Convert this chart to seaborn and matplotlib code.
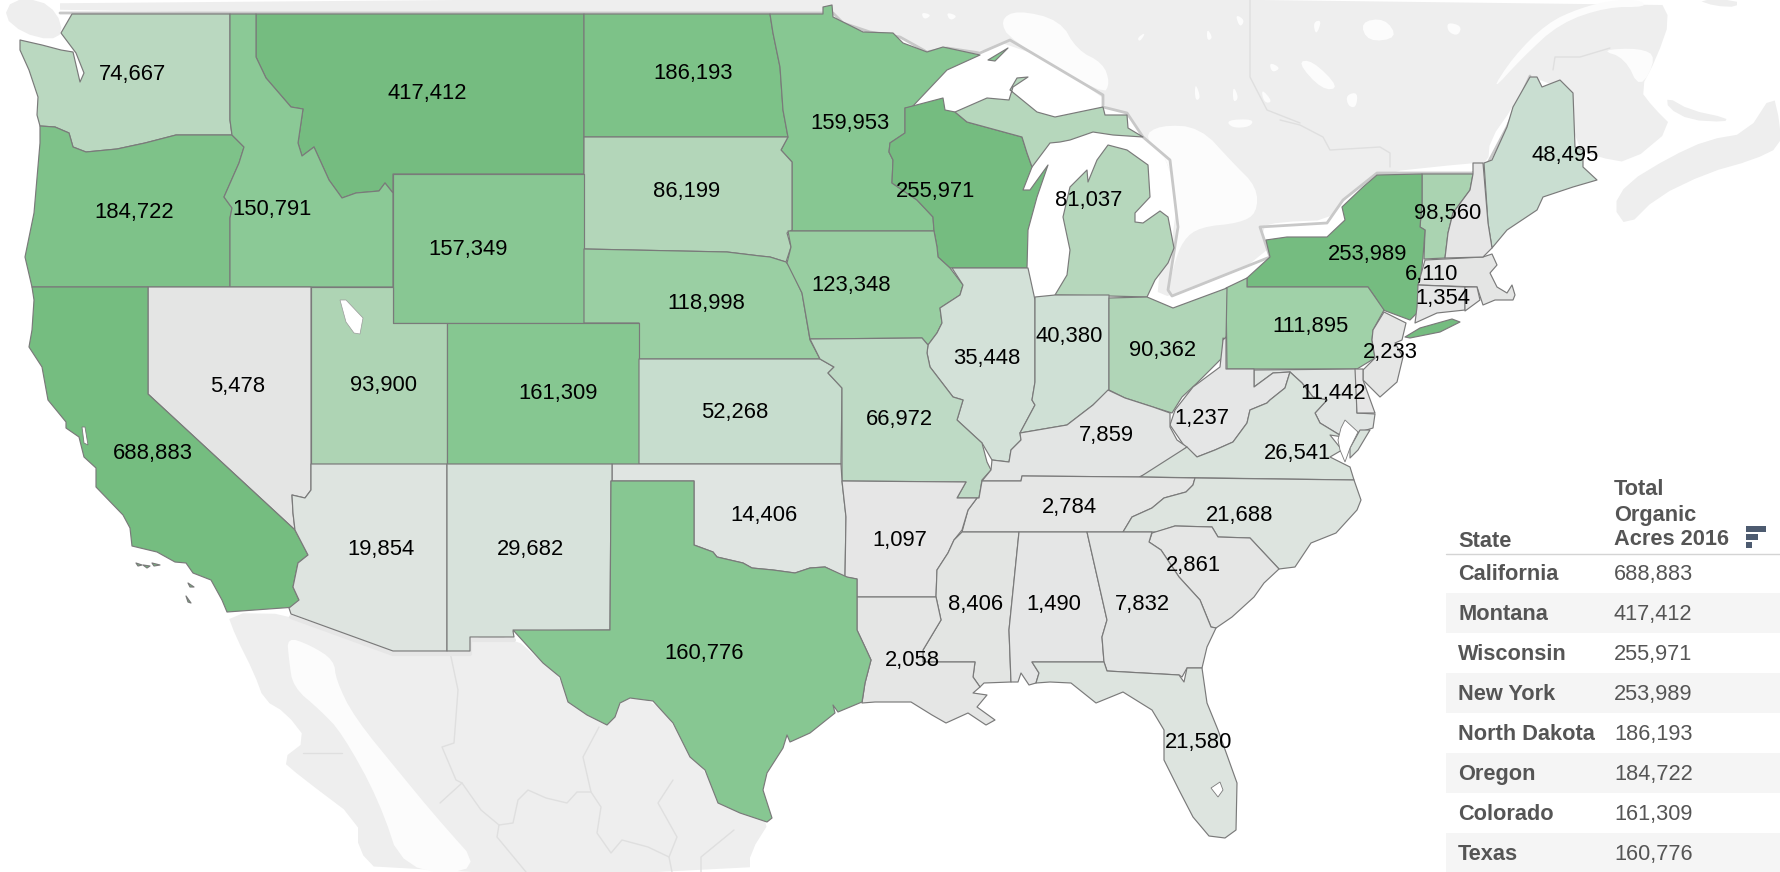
import numpy as np
import matplotlib
matplotlib.use("Agg")
import matplotlib.pyplot as plt
from matplotlib.patches import Polygon
from matplotlib.colors import to_hex
import seaborn as sns

STATES = ["WA","MT","ND","MN","OR","ID","WI","SD","WY","MI","ME","VT","NY","NE","IA","MA","CT","PA","NJ","IL","IN","OH","UT","NV","CO","KS","MO","MD","WV","KY","VA","CA","TN","NC","OK","AR","AZ","NM","SC","MS","AL","GA","LA","TX","FL","NH","RI","DE"]
ACRES = [74667,417412,186193,159953,184722,150791,255971,86199,157349,81037,48495,98560,253989,118998,123348,6110,1354,111895,2233,35448,40380,90362,93900,5478,161309,52268,66972,11442,1237,7859,26541,688883,2784,21688,14406,1097,19854,29682,2861,8406,1490,7832,2058,160776,21580,None,None,None]
# label anchors, measured on a 1568-wide copy of the picture
LABEL_X = [117,376,611,749,118,240,824,605,412,959,1379,1275,1205,622,750,1261,1271,1154,1225,869,942,1024,338,209,492,647,792,1174,1059,975,1143,135,942,1092,673,793,336,467,1051,859,928,1006,804,620,1056]
LABEL_Y = [64,81,63,107,185,183,167,167,218,175,135,186,222,266,250,240,261,286,309,314,295,307,338,339,345,362,368,345,367,382,398,398,445,452,452,474,482,482,496,531,531,531,580,574,652]

TABLE_STATE = ["California","Montana","Wisconsin","New York","North Dakota","Oregon","Colorado","Texas"]
TABLE_ACRES = [688883,417412,255971,253989,186193,184722,161309,160776]

COLOR_VALUES = [0,20000,50000,90000,120000,160000,190000,255000,690000]
COLOR_STOPS = ["#e6e6e6","#dee4e0","#c8ded0","#b1d5b7","#9acfa3","#87c792","#7cc187","#75bc80","#75bd80"]

SHAPES = {
"WA":[[(72,14),(230,14),(230,120),(232,135),(176,135),(145,143),(117,149),(86,152),(73,147),(69,133),(55,127),(40,126),(37,115),(38,97),(29,70),(20,50),(20,40),(42,45),(61,50),(73,52),(80,82),(84,73),(76,53),(61,33)]],
"OR":[[(40,126),(55,127),(69,133),(73,147),(86,152),(117,149),(145,143),(176,135),(232,135),(244,147),(239,163),(224,197),(232,208),(230,218),(230,287),(32,287),(25,257),(34,213),(40,143)]],
"ID":[[(230,14),(256,14),(256,57),(266,78),(291,107),(303,109),(298,143),(302,156),(314,147),(329,180),(342,198),(356,193),(379,191),(385,183),(393,193),(393,287),(230,287),(230,218),(232,208),(224,197),(239,163),(244,147),(232,135),(230,120)]],
"MT":[[(256,14),(584,14),(584,174),(393,174),(393,193),(385,183),(379,191),(356,193),(342,198),(329,180),(314,147),(302,156),(298,143),(303,109),(291,107),(266,78),(256,57)]],
"WY":[[(393,174),(584,174),(584,323),(393,323)]],
"CA":[[(32,287),(148,287),(148,394),(295,530),(308,555),(298,563),(293,587),(299,600),(296,607),(227,612),(222,600),(211,580),(193,573),(186,563),(175,562),(157,552),(132,546),(130,528),(123,515),(96,487),(96,468),(84,457),(79,437),(66,428),(66,422),(48,400),(42,367),(29,347),(32,330),(34,300)],
     [(136,563),(142,565),(138,566)],[(143,565),(150,566),(147,568)],[(152,563),(160,565),(154,566)],[(188,583),(194,587),(190,587)],[(186,596),(191,603),(188,602)]],
"NV":[[(148,287),(311,287),(311,490),(305,498),(292,495),(293,513),(295,530),(148,394)]],
"UT":[[(311,287),(393,287),(393,323),(447,323),(447,464),(311,464)]],
"AZ":[[(311,464),(447,464),(447,651),(393,651),(291,614),(289,608),(299,600),(293,587),(298,563),(308,555),(295,530),(293,513),(292,495),(305,498),(311,490)]],
"NM":[[(447,464),(612,464),(612,481),(611,481),(610,630),(513,631),(514,637),(470,637),(470,651),(447,651)]],
"CO":[[(447,323),(639,323),(639,464),(447,464)]],
"KS":[[(639,359),(820,359),(834,367),(828,373),(842,388),(841,464),(639,464)]],
"NE":[[(584,249),(727,252),(760,256),(770,257),(786,262),(790,267),(802,293),(810,340),(820,359),(639,359),(639,323),(584,323)]],
"SD":[[(584,137),(788,137),(781,150),(792,162),(792,230),(787,233),(791,247),(786,262),(770,257),(760,256),(727,252),(584,249)]],
"ND":[[(584,14),(770,14),(773,33),(780,67),(783,110),(788,137),(584,137)]],
"MN":[[(770,14),(823,14),(823,7),(832,5),(833,17),(863,32),(893,33),(903,43),(927,52),(943,47),(980,55),(947,70),(912,107),(905,108),(905,133),(890,143),(889,152),(893,160),(892,183),(917,200),(933,217),(934,231),(788,231),(792,230),(792,162),(781,150),(788,137),(783,110),(780,67),(773,33)],
     [(988,60),(1008,48),(995,61)]],
"IA":[[(788,231),(934,231),(937,247),(938,257),(950,268),(963,285),(960,295),(940,308),(942,323),(937,333),(928,345),(922,338),(810,339),(802,293),(787,263),(791,247)]],
"MO":[[(810,339),(922,338),(928,345),(927,353),(930,367),(953,397),(963,400),(957,420),(982,443),(987,462),(991,470),(982,480),(979,498),(957,498),(966,482),(842,481),(842,388),(828,373),(834,367),(820,359)]],
"OK":[[(612,464),(841,464),(842,481),(846,517),(845,577),(825,567),(810,568),(795,573),(773,570),(752,568),(743,563),(717,557),(713,552),(694,545),(694,481),(612,481)]],
"TX":[[(611,481),(694,481),(694,545),(713,552),(717,557),(743,563),(752,568),(773,570),(795,573),(810,568),(825,567),(847,577),(857,579),(857,630),(865,647),(871,660),(865,683),(862,702),(838,712),(833,705),(835,713),(810,733),(790,742),(787,735),(783,748),(767,773),(763,790),(772,818),(767,822),(740,813),(718,803),(705,770),(690,757),(673,723),(653,701),(630,698),(620,703),(615,717),(607,725),(587,715),(568,702),(560,677),(543,663),(513,630),(610,630)]],
"AR":[[(842,481),(966,482),(957,498),(977,498),(968,510),(962,530),(954,540),(948,553),(937,570),(936,597),(857,597),(857,579),(845,577),(846,517)]],
"LA":[[(857,597),(936,597),(941,620),(923,650),(923,662),(975,662),(973,677),(980,687),(973,693),(987,695),(977,707),(995,720),(986,725),(968,713),(946,723),(932,715),(911,702),(875,702),(862,703),(865,683),(871,660),(865,647),(857,630)]],
"MS":[[(962,532),(1019,532),(1009,630),(1011,682),(984,683),(980,687),(973,677),(975,662),(923,662),(923,650),(941,620),(936,597),(937,570),(948,553),(954,540)]],
"AL":[[(1019,532),(1087,532),(1107,620),(1102,637),(1104,662),(1032,662),(1039,673),(1036,683),(1029,685),(1021,673),(1018,682),(1011,682),(1009,630)]],
"GA":[[(1087,532),(1152,532),(1149,542),(1161,550),(1179,577),(1200,600),(1211,627),(1216,628),(1207,647),(1202,668),(1187,668),(1182,677),(1179,675),(1107,671),(1104,662),(1102,637),(1107,620)]],
"FL":[[(1032,662),(1104,662),(1107,671),(1179,675),(1184,682),(1187,668),(1202,668),(1207,703),(1218,730),(1237,783),(1236,830),(1225,838),(1209,836),(1193,817),(1179,790),(1164,760),(1164,730),(1152,710),(1123,692),(1096,703),(1071,683),(1050,682),(1036,683),(1039,673)]],
"TN":[[(982,481),(1021,481),(1022,476),(1139,477),(1195,478),(1193,485),(1186,492),(1164,498),(1152,508),(1132,517),(1123,532),(962,532),(968,510),(977,498),(979,498)]],
"KY":[[(992,460),(1009,462),(1011,450),(1021,440),(1020,433),(1067,425),(1093,405),(1108,390),(1125,398),(1153,407),(1170,413),(1170,427),(1177,440),(1187,447),(1157,470),(1139,477),(1022,476),(1021,481),(982,481),(991,470)]],
"IL":[[(952,268),(1028,268),(1035,300),(1035,382),(1032,400),(1035,405),(1020,433),(1021,440),(1011,450),(1009,462),(992,460),(982,443),(957,420),(963,400),(953,397),(930,367),(927,353),(928,345),(937,333),(942,323),(940,308),(960,295),(963,285)]],
"IN":[[(1035,297),(1055,295),(1109,295),(1109,390),(1093,405),(1067,425),(1020,433),(1035,405),(1032,400),(1035,382)]],
"OH":[[(1109,298),(1147,297),(1173,308),(1227,288),(1226,340),(1223,338),(1223,357),(1197,383),(1182,397),(1172,413),(1153,407),(1125,398),(1109,390)]],
"MI":[[(1055,295),(1109,296),(1147,297),(1155,280),(1168,263),(1174,248),(1168,217),(1160,211),(1143,223),(1135,222),(1135,213),(1150,197),(1148,165),(1127,150),(1108,145),(1097,160),(1088,182),(1087,170),(1070,187),(1063,217),(1070,250),(1067,275)],
     [(955,112),(987,98),(1009,100),(1013,87),(1028,77),(1017,78),(1010,90),(1037,112),(1055,117),(1103,107),(1105,115),(1127,115),(1128,128),(1143,137),(1113,135),(1093,132),(1070,140),(1060,142),(1050,143),(1032,167),(1027,153),(1022,137),(967,122)]],
"WI":[[(905,108),(943,98),(945,110),(955,112),(967,122),(1022,137),(1027,153),(1032,167),(1023,190),(1030,190),(1048,165),(1037,197),(1028,230),(1027,268),(950,268),(938,257),(937,247),(934,231),(933,217),(917,200),(892,183),(893,160),(889,152),(890,143),(905,133)]],
"PA":[[(1226,288),(1247,278),(1247,287),(1368,287),(1375,297),(1384,310),(1373,330),(1372,340),(1375,358),(1357,369),(1227,369)]],
"NY":[[(1247,287),(1247,278),(1270,257),(1266,240),(1287,237),(1327,237),(1345,220),(1342,207),(1363,187),(1377,175),(1422,174),(1422,203),(1420,227),(1425,230),(1423,257),(1417,313),(1410,320),(1383,310),(1375,297),(1368,287)],
     [(1405,337),(1420,328),(1452,319),(1460,322),(1440,332),(1410,338)]],
"VT":[[(1422,174),(1473,174),(1470,190),(1453,213),(1448,233),(1445,258),(1424,259),(1425,230),(1420,227),(1422,203)]],
"NH":[[(1473,163),(1483,163),(1488,223),(1492,248),(1483,257),(1445,258),(1448,233),(1453,213),(1470,190),(1473,174)]],
"ME":[[(1484,163),(1492,160),(1507,127),(1513,107),(1530,77),(1537,77),(1542,87),(1560,80),(1573,93),(1575,147),(1583,150),(1583,167),(1597,180),(1573,187),(1543,197),(1537,210),(1507,230),(1492,248),(1488,223)]],
"MA":[[(1425,260),(1445,259),(1483,257),(1492,254),(1497,265),(1490,273),(1497,287),(1507,293),(1512,285),(1515,295),(1513,300),(1495,300),(1483,305),(1477,287),(1418,285)]],
"CT":[[(1418,285),(1465,287),(1465,310),(1437,313),(1415,323),(1417,307)]],
"RI":[[(1465,287),(1477,287),(1480,300),(1465,311)]],
"NJ":[[(1384,312),(1406,323),(1402,340),(1395,343),(1403,357),(1397,382),(1380,397),(1363,380),(1363,370),(1375,358),(1372,340),(1373,330)]],
"DE":[[(1355,369),(1363,369),(1363,380),(1375,413),(1357,413)]],
"MD":[[(1254,370),(1356,369),(1357,413),(1375,414),(1373,428),(1350,435),(1343,437),(1320,423),(1315,413),(1327,400),(1313,397),(1302,383),(1290,372),(1273,373),(1254,387)]],
"WV":[[(1226,337),(1226,369),(1254,369),(1254,387),(1273,373),(1290,372),(1285,388),(1270,400),(1267,403),(1250,410),(1247,423),(1233,442),(1215,450),(1197,457),(1185,447),(1170,425),(1175,410),(1193,387),(1220,367),(1223,340)]],
"VA":[[(1140,477),(1187,447),(1197,457),(1215,450),(1233,442),(1247,423),(1250,410),(1267,403),(1270,400),(1285,388),(1290,372),(1302,383),(1313,397),(1327,400),(1315,413),(1320,423),(1343,437),(1330,435),(1342,450),(1330,457),(1350,467),(1354,480)],
     [(1360,430),(1370,430),(1358,450),(1350,458),(1350,448)]],
"NC":[[(1195,478),(1354,480),(1361,500),(1357,510),(1336,533),(1311,543),(1295,567),(1279,569),(1250,538),(1218,537),(1212,527),(1175,526),(1157,532),(1123,532),(1132,517),(1152,508),(1164,498),(1186,492),(1193,485)]],
"SC":[[(1152,533),(1175,526),(1212,527),(1218,537),(1250,538),(1279,569),(1264,583),(1254,597),(1232,617),(1216,628),(1211,627),(1200,600),(1179,577),(1161,550),(1149,542)]],
}

CANADA = [(60,0),(1660,0),(1670,20),(1657,57),(1640,90),(1653,107),(1673,127),(1630,163),(1597,157),(1575,147),(1573,93),(1530,76),(1513,107),(1490,140),(1488,163),(1472,163),(1377,173),(1343,200),(1330,220),(1280,222),(1260,227),(1270,257),(1172,298),(1153,290),(1178,227),(1170,160),(1143,137),(1127,113),(1103,107),(1103,95),(1010,40),(980,53),(947,48),(927,52),(900,37),(870,32),(843,23),(833,13),(823,13),(60,13)]
VANCOUVER = [(4,17),(23,33),(50,40),(63,33),(57,13),(40,0),(12,0)]
NOVA_SCOTIA = [(1613,207),(1627,227),(1657,197),(1707,173),(1753,160),(1780,147),(1780,123),(1773,93),(1747,133),(1707,140),(1670,157),(1627,183)]
PEI = [(1667,97),(1690,110),(1727,118),(1725,122),(1690,120),(1668,108)]
SLIVER = [(1697,0),(1737,0),(1737,7),(1715,6)]
MEXICO = [(227,613),(291,614),(393,651),(470,651),(470,637),(514,637),(543,663),(560,677),(568,702),(587,715),(607,725),(615,717),(620,703),(630,698),(653,701),(673,723),(690,757),(705,770),(718,803),(740,813),(772,818),(750,853),(750,872),(379,872),(358,850),(358,820),(301,777),(281,760),(307,740),(286,713),(264,700),(254,673),(236,637)]
WHITE_WATER = [
 [(287,637),(310,645),(334,660),(336,680),(354,717),(403,777),(436,817),(485,872),(403,872),(379,800),(342,733),(320,710),(293,687),(289,660)],
 [(1170,160),(1143,137),(1160,125),(1200,127),(1233,163),(1257,187),(1257,213),(1240,223),(1200,227),(1183,240),(1173,267),(1168,296),(1178,227)],
 [(1010,40),(1000,20),(1017,10),(1060,20),(1077,50),(1103,63),(1110,83),(1103,95)],
 [(1490,93),(1513,57),(1547,23),(1580,8),(1613,0),(1640,0),(1647,7),(1607,7),(1560,23),(1523,57)],
 [(1640,90),(1625,58),(1600,50),(1640,48),(1657,57)],
 [(1297,62),(1312,60),(1340,88),(1322,90)],[(1360,22),(1385,18),(1398,38),(1368,42)],[(1447,22),(1462,26),(1458,36),(1448,32)],
 [(1346,95),(1358,92),(1356,108),(1348,106)],[(1313,22),(1322,20),(1316,36)],
 [(1137,38),(1146,32),(1140,42)],[(921,12),(932,15),(924,20)],[(946,12),(958,16),(950,21)],[(1235,14),(1245,20),(1240,28)],
 [(1207,28),(1213,38),(1207,41)],[(1195,82),(1201,98),(1195,101)],[(1233,85),(1239,98),(1233,103)],[(1261,88),(1273,102),(1264,103)],
 [(1226,120),(1254,119),(1250,127),(1232,128)],[(1269,62),(1281,68),(1272,73)],
]
UTAH_LAKE = [(340,300),(346,300),(363,318),(360,334),(354,333),(346,322)]
SMALL_WHITE = [[(1211,788),(1220,782),(1223,790),(1218,797)],[(82,427),(85,427),(88,445),(84,443)],
               [(1345,420),(1358,432),(1350,448),(1345,462),(1340,450),(1338,440),(1341,428)]]
BORDER_LINE = [(514,637),(470,637),(470,651),(393,651),(291,614)]
SHADOW_LINE = [(60,13),(823,13),(833,13),(843,23),(870,32),(900,37),(927,52),(947,48),(980,53),(1010,40),(1103,95),(1103,107),(1127,113),(1143,137),(1170,160),(1178,227),(1168,290),(1172,296),(1270,257),(1260,227),(1327,223),(1343,200),(1377,173),(1472,173),(1488,163),(1507,127),(1530,76)]
FAINT_LINES = [
 [(450,652),(458,690),(454,743),(442,747),(456,780),(462,783),(440,803)],
 [(462,783),(481,810),(499,825),(497,837),(526,872)],
 [(499,825),(513,823),(518,800),(528,790),(546,798),(567,803),(577,792),(591,792),(601,807),(597,833),(611,853),(622,840),(648,847),(669,857),(677,837),(658,803),(673,780)],
 [(599,727),(583,757),(591,792)],[(734,830),(701,857),(701,872)],[(669,857),(672,872)],[(303,753),(342,753)],
 [(1280,120),(1300,125),(1323,137),(1330,150),(1380,147),(1390,153),(1390,167)],
 [(1553,70),(1555,57),(1580,57),(1610,48)],
 [(1250,0),(1250,77),(1267,110),(1300,123)],
]

LAND = "#eeeeee"
WATER = "#fcfcfc"
EDGE = "#7a7a7a"
TEXT_GREY = "#555555"
SHOWN = 1780 / 1568


def rounded(points, passes=2):
    """Corner-cutting, so that the faint base map has no hard corners."""
    pts = np.asarray(points, dtype=float)
    for _ in range(passes):
        nxt = np.roll(pts, -1, axis=0)
        pts = np.column_stack([0.75 * pts + 0.25 * nxt, 0.25 * pts + 0.75 * nxt]).reshape(-1, 2)
    return pts


sns.set_theme(style="white")
plt.rcParams["font.family"] = ["Liberation Sans", "DejaVu Sans"]
cmap_rgb = np.array([matplotlib.colors.to_rgb(c) for c in sns.blend_palette(COLOR_STOPS, n_colors=len(COLOR_STOPS))])


def acre_colour(v):
    rgb = [np.interp(v, COLOR_VALUES, cmap_rgb[:, k]) for k in range(3)]
    return to_hex(rgb)


fig = plt.figure(figsize=(17.8, 8.72), dpi=100, facecolor="white")
ax = fig.add_axes([0, 0, 1, 1])
ax.set_xlim(0, 1780)
ax.set_ylim(872, 0)
ax.axis("off")

for poly in (CANADA, VANCOUVER, NOVA_SCOTIA, MEXICO, PEI, SLIVER):
    ax.add_patch(Polygon(rounded(poly, 1), closed=True, facecolor=LAND, edgecolor="none", zorder=1))
for poly in WHITE_WATER:
    ax.add_patch(Polygon(rounded(poly, 2), closed=True, facecolor=WATER, edgecolor="none", zorder=2))
for line in FAINT_LINES:
    xs, ys = zip(*line)
    ax.plot(xs, ys, color="#dfdfdf", lw=1.0, zorder=3)
xs, ys = zip(*SHADOW_LINE)
ax.plot(xs, ys, color="#c8c8c8", lw=2.0, zorder=3)
xs, ys = zip(*BORDER_LINE)
ax.plot(xs, np.array(ys) + 3, color="#e6e6e6", lw=3.0, zorder=3)

for st, v in zip(STATES, ACRES):
    col = acre_colour(v if v is not None else 0)
    for poly in SHAPES[st]:
        ax.add_patch(Polygon(poly, closed=True, facecolor=col, edgecolor=EDGE, lw=0.85, joinstyle="round", zorder=4))
ax.add_patch(Polygon(UTAH_LAKE, closed=True, facecolor="white", edgecolor="#9a9a9a", lw=0.5, zorder=5))
for poly in SMALL_WHITE:
    ax.add_patch(Polygon(poly, closed=True, facecolor="white", edgecolor=EDGE, lw=0.6, zorder=5))

for x, y, v in zip(LABEL_X, LABEL_Y, ACRES):
    ax.text(x * SHOWN, y * SHOWN + 2, f"{v:,}", ha="center", va="center", fontsize=15.8, color="black", zorder=8)

# table
ROW_TOP = 553
ROW_H = 40
for i, (name, val) in enumerate(zip(TABLE_STATE, TABLE_ACRES)):
    top = ROW_TOP + i * ROW_H
    if i % 2 == 1:
        ax.fill_between([1446, 1780], top, top + ROW_H, color="#f5f5f5", lw=0, zorder=6)
    ax.text(1458, top + 21, name, ha="left", va="center", fontsize=15.7, fontweight="bold", color=TEXT_GREY, zorder=8)
    ax.text(1614, top + 21, f"{val:,}", ha="left", va="center", fontsize=15.7, color=TEXT_GREY, zorder=8)
ax.plot([1446, 1780], [554, 554], color="#d4d4d4", lw=1.0, zorder=7)
ax.text(1458, 541, "State", ha="left", va="center", fontsize=15.7, fontweight="bold", color=TEXT_GREY, zorder=8)
for txt, yy in zip(["Total", "Organic", "Acres 2016"], [489, 515, 539]):
    ax.text(1614, yy, txt, ha="left", va="center", fontsize=15.7, fontweight="bold", color=TEXT_GREY, zorder=8)
for top, wid in zip([526, 534, 542], [20, 12, 6]):
    ax.fill_between([1746, 1746 + wid], top, top + 6, color="#4d5b70", lw=0, zorder=8)

sns.despine(ax=ax, left=True, bottom=True)
fig.savefig("out.png", dpi=100)
